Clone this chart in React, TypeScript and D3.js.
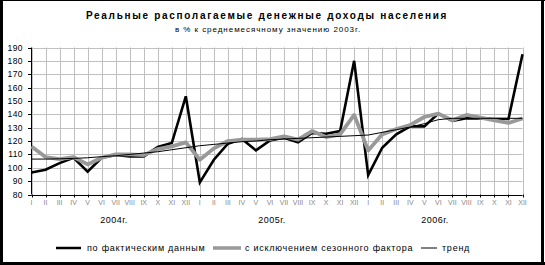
import React from "react";
import * as d3 from "d3";

const months = ["I", "II", "III", "IV", "V", "VI", "VII", "VIII", "IX", "X", "XI", "XII"];
const years = ["2004г.", "2005г.", "2006г."];
const yearLabelX = [114, 272, 435];
const yTicks = [80, 90, 100, 110, 120, 130, 140, 150, 160, 170, 180, 190];

const actual = [
  96.5, 98.5, 103.5, 107.5, 97, 107.5, 109.5, 108.5, 108.5, 115.5, 118.5, 153.5,
  89, 106, 118, 121.5, 113, 120.5, 122.5, 119, 126, 125.5, 127.5, 180,
  94.5, 115, 125, 131, 131, 140.5, 135, 137, 137, 136.5, 136.5, 185,
];
const seasonal = [
  116, 108, 106.5, 108, 102.5, 107.5, 110, 110, 109.5, 114, 116, 119,
  106, 114.5, 120, 121, 121, 121.5, 123.5, 121, 127.5, 123, 125, 139.5,
  113, 125, 129, 132, 138, 140.5, 135.5, 139.5, 137.5, 135.5, 133.5, 137,
];
const trend = [
  106.5, 106.5, 106.7, 107, 107.5, 108.3, 109, 110, 111, 112, 113.5, 115,
  116.5, 117.5, 118.5, 119.5, 120, 121, 121.5, 122, 122.5, 123, 123.5, 124,
  124.5, 126.5, 128.5, 130.5, 133, 136, 137, 137, 137, 137, 137, 137,
];

const legendItems = [
  { label: "по фактическим данным", color: "#000", width: 2.5, x1: 56, x2: 81, tx: 87 },
  { label: "с исключением сезонного фактора", color: "#999", width: 3.5, x1: 213, x2: 241, tx: 245 },
  { label: "тренд", color: "#000", width: 1, x1: 421, x2: 437, tx: 442 },
];

const W = 545;
const H = 265;
const FONT = "'Liberation Sans', Arial, sans-serif";

export default function App() {
  const idx = d3.range(actual.length);
  const x = d3.scalePoint<number>().domain(idx).range([31.5, 522.5]);
  const y = d3.scaleLinear().domain([80, 190]).range([194.5, 47.5]);
  const line = (data: number[]) =>
    d3.line<number>().x((_, i) => x(i) as number).y((d) => y(d))(data) || "";
  const allMonths = idx.map((i) => months[i % 12]);

  return (
    <svg width={W} height={H} style={{ position: "absolute", left: 0, top: 0, background: "#fff" }}>
      <rect x={0} y={0} width={W} height={H} fill="#fff" />
      {/* border */}
      <rect x={0} y={0} width={W} height={1} fill="#000" />
      <rect x={0} y={0} width={3} height={H} fill="#000" />
      <rect x={541} y={0} width={3} height={H} fill="#000" />
      <rect x={0} y={262} width={W} height={3} fill="#000" />

      <text x={267} y={19} textAnchor="middle" fontFamily={FONT} fontSize={10} fontWeight="bold" letterSpacing={1.7}>
        Реальные располагаемые денежные доходы населения
      </text>
      <text x={268} y={32} textAnchor="middle" fontFamily={FONT} fontSize={8} letterSpacing={0.95}>
        в % к среднемесячному значению 2003г.
      </text>

      {/* grid */}
      {yTicks.map((t) => (
        <line key={"h" + t} x1={31.5} x2={522.5} y1={Math.round(y(t)) + 0.5} y2={Math.round(y(t)) + 0.5} stroke="#c0c0c0" />
      ))}
      {idx.map((i) => (
        <line key={"v" + i} x1={Math.round(x(i) as number) + 0.5} x2={Math.round(x(i) as number) + 0.5} y1={y(190)} y2={y(80)} stroke="#c0c0c0" />
      ))}

      {/* axes */}
      <line x1={31.5} x2={31.5} y1={y(190)} y2={y(80)} stroke="#000" />
      <line x1={31.5} x2={522.5} y1={Math.round(y(80)) + 0.5} y2={Math.round(y(80)) + 0.5} stroke="#000" />
      {yTicks.map((t) => (
        <g key={"yt" + t}>
          <line x1={28} x2={31.5} y1={Math.round(y(t)) + 0.5} y2={Math.round(y(t)) + 0.5} stroke="#000" />
          <text x={23} y={y(t) + 3} textAnchor="end" fontFamily={FONT} fontSize={8.5} letterSpacing={0.4}>
            {t}
          </text>
        </g>
      ))}
      {idx.map((i) => (
        <g key={"xt" + i}>
          <line x1={Math.round(x(i) as number) + 0.5} x2={Math.round(x(i) as number) + 0.5} y1={y(80)} y2={y(80) + 3} stroke="#000" />
          <text x={x(i) as number} y={205} textAnchor="middle" fontFamily={FONT} fontSize={7} fill="#888">
            {allMonths[i]}
          </text>
        </g>
      ))}
      {years.map((yr, k) => (
        <text key={yr} x={yearLabelX[k]} y={223} textAnchor="middle" fontFamily={FONT} fontSize={9} letterSpacing={0.5}>
          {yr}
        </text>
      ))}

      {/* series */}
      <path d={line(actual)} fill="none" stroke="#000" strokeWidth={2.6} strokeLinejoin="miter" />
      <path d={line(seasonal)} fill="none" stroke="#999" strokeWidth={3.8} strokeLinejoin="round" />
      <path d={line(trend)} fill="none" stroke="#000" strokeWidth={1} />

      {/* legend */}
      {legendItems.map((it) => (
        <g key={it.label}>
          <line x1={it.x1} x2={it.x2} y1={248} y2={248} stroke={it.color} strokeWidth={it.width} />
          <text x={it.tx} y={251} fontFamily={FONT} fontSize={9} letterSpacing={0.75}>
            {it.label}
          </text>
        </g>
      ))}
    </svg>
  );
}
